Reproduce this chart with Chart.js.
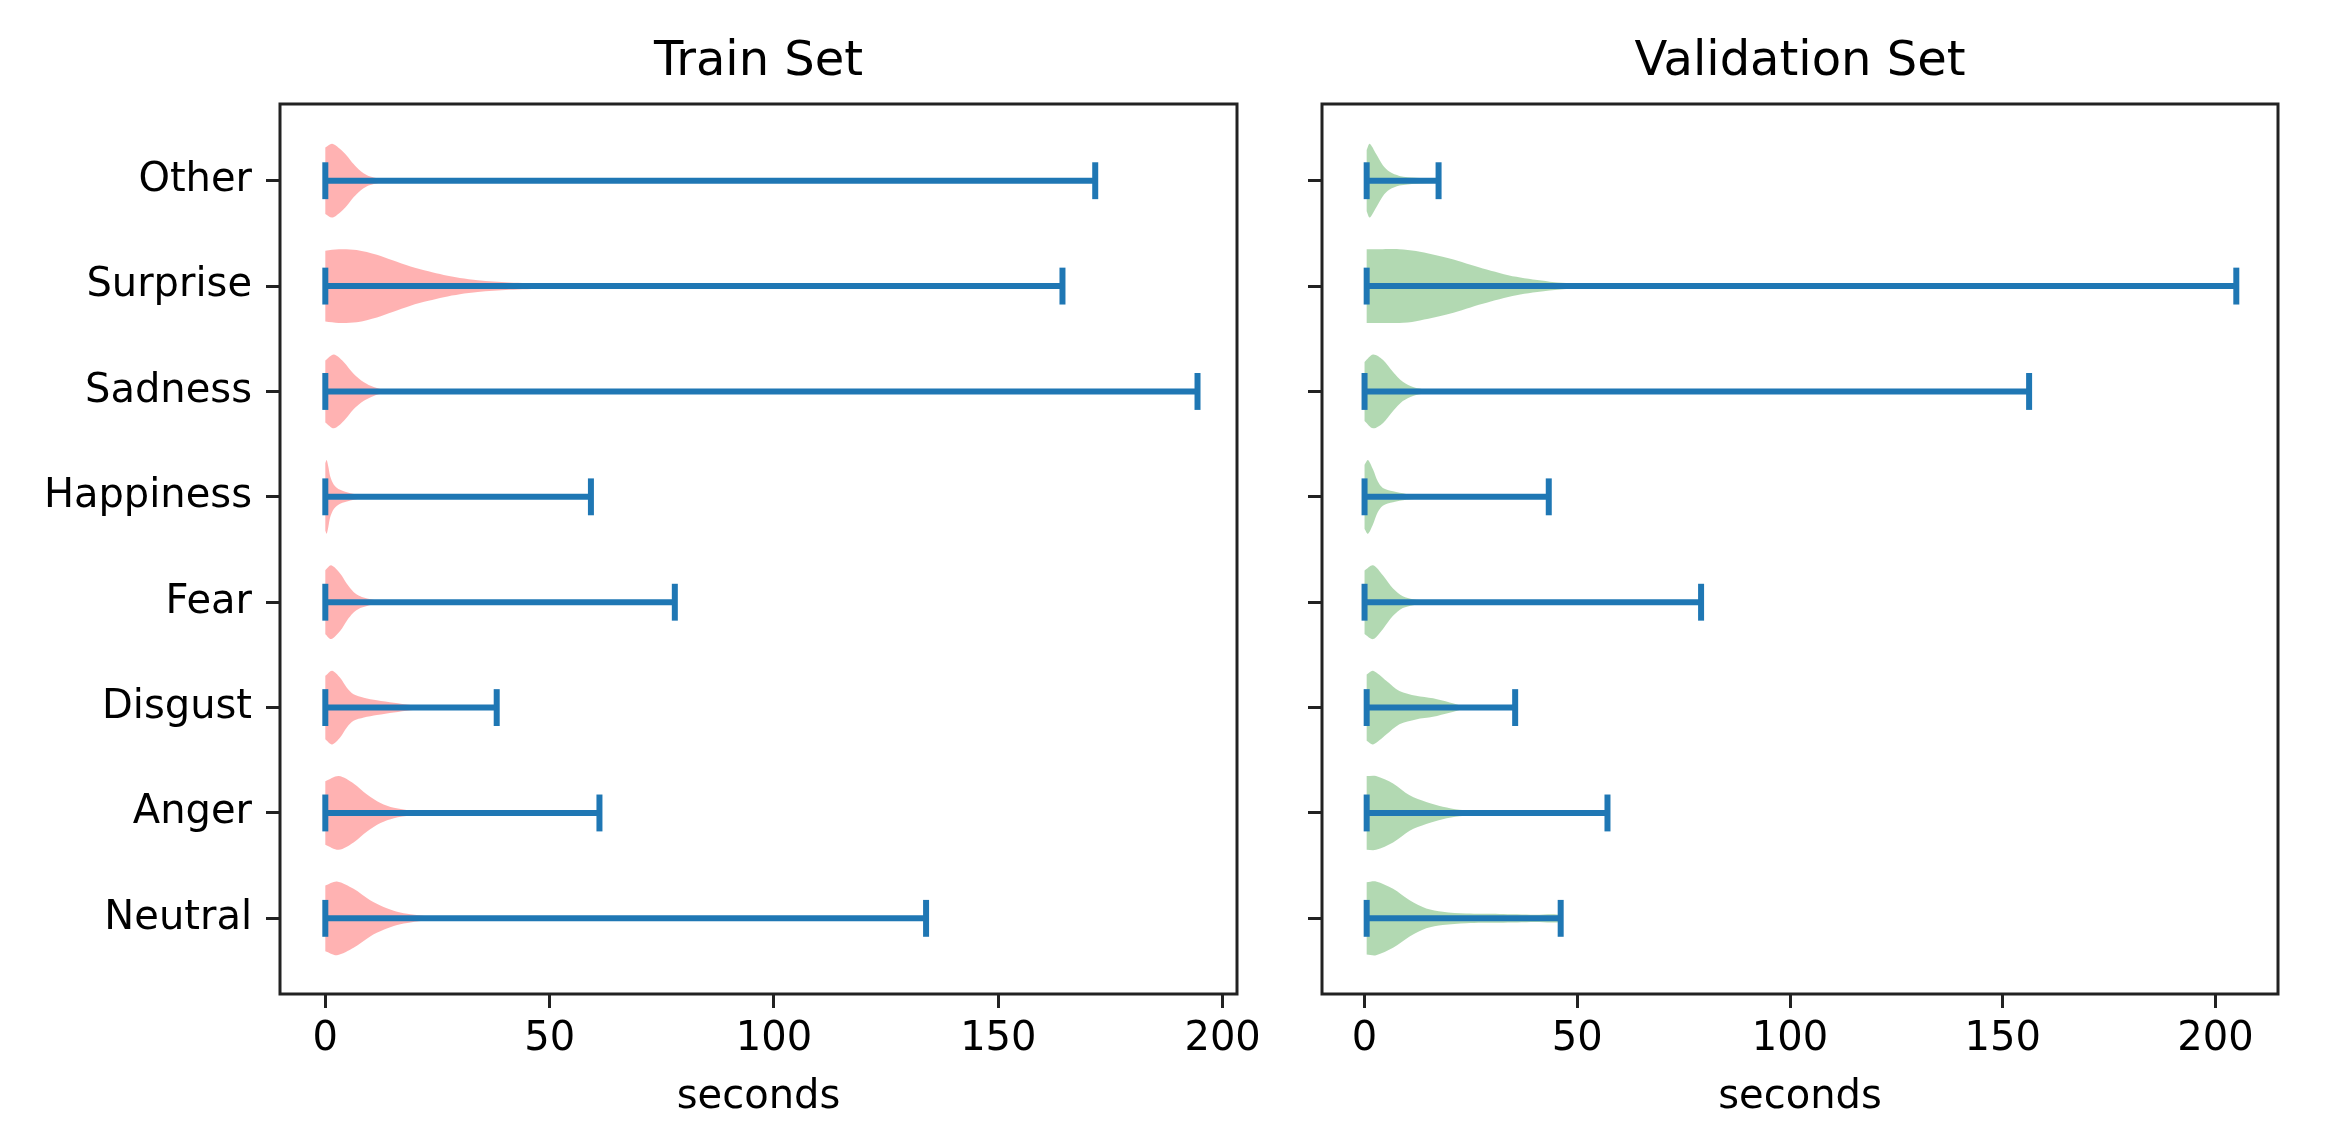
<!DOCTYPE html>
<html>
<head>
<meta charset="utf-8">
<script src="https://cdn.jsdelivr.net/npm/chart.js@4.4.1/dist/chart.umd.min.js"></script>
<style>
  html, body { margin: 0; padding: 0; background: #fff; overflow: hidden; }
  #wrap { position: relative; width: 2330px; height: 1146px; }
  canvas { position: absolute; top: 0; }
  #grafico-train { left: 0; }
  #grafico-val { left: 1280px; }
</style>
</head>
<body>
<div id="wrap">
  <canvas id="grafico-train" width="1280" height="1146"></canvas>
  <canvas id="grafico-val" width="1050" height="1146"></canvas>
</div>
<script>
// Categories, bottom to top (position 1..8)
const categories = ["Neutral", "Anger", "Disgust", "Fear", "Happiness", "Sadness", "Surprise", "Other"];
const xTicks = [0, 50, 100, 150, 200];

// Whisker extremes (seconds)
const trainMin = [0, 0, 0, 0, 0, 0, 0, 0];
const trainMax = [133.9, 61.1, 38.2, 77.9, 59.2, 194.4, 164.3, 171.6];
const valMin = [0.5, 0.5, 0.5, 0, 0, 0, 0.5, 0.5];
const valMax = [46.1, 57.1, 35.4, 79.1, 43.3, 156.2, 204.9, 17.4];

// Violin outlines: x (seconds) and relative half width (1 = widest)
const trainShapeX = [
  [0, 2.6, 6.3, 10, 13, 16, 19, 22.7, 30, 45, 70, 133.9],
  [0, 3, 6.3, 9.3, 12.3, 15.3, 19, 25, 35, 61.1],
  [0, 1.5, 3.3, 4.8, 6.3, 8.6, 11.5, 15.3, 19, 24, 30, 38.2],
  [0, 1.3, 3.3, 4.8, 6.3, 7.8, 9.3, 11.5, 15, 25, 77.9],
  [0, 0.3, 0.7, 1.1, 1.9, 3.3, 5.6, 7.8, 12, 20, 59.2],
  [0, 1.9, 4.1, 6.3, 8.6, 10.8, 13, 16, 22, 35, 194.4],
  [0, 3, 7, 11.5, 15, 19, 23, 26.4, 30, 34, 41, 49, 64, 86, 110, 164.3],
  [0, 1.5, 3.3, 4.8, 6.3, 7.8, 9.3, 10.8, 13, 20, 40, 171.6]
];
const trainShapeW = [
  [0.89, 1, 0.8, 0.49, 0.31, 0.18, 0.11, 0.06, 0.03, 0.015, 0.005, 0],
  [0.86, 1, 0.8, 0.5, 0.27, 0.14, 0.07, 0.03, 0.01, 0],
  [0.86, 1, 0.81, 0.54, 0.36, 0.27, 0.2, 0.13, 0.07, 0.03, 0.01, 0],
  [0.87, 1, 0.78, 0.5, 0.28, 0.16, 0.1, 0.05, 0.02, 0.005, 0],
  [0.92, 1, 0.8, 0.55, 0.33, 0.19, 0.1, 0.05, 0.02, 0.005, 0],
  [0.84, 1, 0.8, 0.48, 0.25, 0.12, 0.05, 0.03, 0.01, 0.004, 0],
  [0.96, 1, 0.98, 0.85, 0.7, 0.53, 0.4, 0.3, 0.22, 0.16, 0.1, 0.07, 0.05, 0.03, 0.015, 0],
  [0.9, 1, 0.86, 0.68, 0.45, 0.27, 0.15, 0.09, 0.04, 0.01, 0.003, 0]
];
const valShapeX = [
  [0.5, 2.7, 6.7, 10.6, 14.5, 18.4, 23.9, 31.7, 40, 46.1],
  [0.5, 2.7, 6.7, 10.6, 14.5, 18.4, 22.3, 27.8, 35, 45, 57.1],
  [0.5, 2, 5.1, 8.2, 12.1, 16.1, 20, 23.1, 28, 35.4],
  [0, 2, 4.3, 6.7, 9, 11.4, 14.5, 20, 30, 79.1],
  [0, 0.8, 2, 3.1, 4.3, 6.7, 9.8, 15, 25, 43.3],
  [0, 2, 4.3, 6.7, 9, 11.4, 14.5, 20, 35, 156.2],
  [0.5, 4.3, 8.2, 12.1, 20, 27.8, 35.7, 43.5, 51.3, 59.2, 75, 100, 204.9],
  [0.5, 1.2, 2.7, 4.3, 5.9, 8.2, 12.1, 16.8, 17.4]
];
const valShapeW = [
  [0.98, 1, 0.8, 0.49, 0.27, 0.18, 0.13, 0.12, 0.1, 0.09],
  [1, 1, 0.8, 0.48, 0.3, 0.17, 0.09, 0.04, 0.02, 0.01, 0.005],
  [0.9, 1, 0.73, 0.45, 0.32, 0.25, 0.14, 0.05, 0.02, 0.01],
  [0.86, 1, 0.73, 0.37, 0.16, 0.08, 0.045, 0.02, 0.005, 0],
  [0.87, 1, 0.74, 0.42, 0.24, 0.15, 0.08, 0.03, 0.01, 0],
  [0.8, 1, 0.86, 0.53, 0.26, 0.12, 0.05, 0.02, 0.005, 0],
  [1, 1, 1, 0.95, 0.75, 0.48, 0.25, 0.12, 0.06, 0.045, 0.03, 0.015, 0],
  [0.83, 1, 0.73, 0.42, 0.24, 0.13, 0.08, 0.06, 0.06]
];

const AZUL = "#1f77b4";
const FUENTE = "DejaVu Sans";
const MEDIO_ANCHO = 0.35;   // widest half width of a violin (y units)
const MEDIO_CAP = 0.175;    // half length of the end caps

// Frame round the plot area (top and right spines too)
const marco = {
  id: "marco",
  afterDraw(chart) {
    const { ctx, chartArea: a } = chart;
    ctx.save();
    ctx.strokeStyle = "#222";
    ctx.lineWidth = 3;
    ctx.strokeRect(a.left, a.top, a.right - a.left, a.bottom - a.top);
    ctx.restore();
  }
};

function contornoViolin(pos, xs, ws) {
  const arriba = xs.map((x, i) => ({ x: x, y: pos + ws[i] * MEDIO_ANCHO }));
  const abajo = xs.map((x, i) => ({ x: x, y: pos - ws[i] * MEDIO_ANCHO })).reverse();
  return arriba.concat(abajo);
}

function lineaAzul(data) {
  return {
    data: data,
    borderColor: AZUL,
    borderWidth: 6,
    borderCapStyle: "butt",
    pointRadius: 0,
    fill: false,
    tension: 0,
    order: 1
  };
}

function armarDatasets(shapeX, shapeW, mins, maxs, relleno) {
  const ds = [];
  categories.forEach((cat, i) => {
    const pos = i + 1;
    ds.push({
      label: cat,
      data: contornoViolin(pos, shapeX[i], shapeW[i]),
      backgroundColor: relleno,
      borderColor: "rgba(0,0,0,0)",
      borderWidth: 1,
      pointRadius: 0,
      fill: "shape",
      tension: 0.3,
      order: 2
    });
    ds.push(lineaAzul([{ x: mins[i], y: pos }, { x: maxs[i], y: pos }]));
    ds.push(lineaAzul([{ x: mins[i], y: pos - MEDIO_CAP }, { x: mins[i], y: pos + MEDIO_CAP }]));
    ds.push(lineaAzul([{ x: maxs[i], y: pos - MEDIO_CAP }, { x: maxs[i], y: pos + MEDIO_CAP }]));
  });
  return ds;
}

function generarGrafico(id, titulo, datasets, xMin, xMax, anchoY, padDerecha, conEtiquetas) {
  const ctx = document.getElementById(id).getContext("2d");
  return new Chart(ctx, {
    type: "line",
    data: { datasets: datasets },
    plugins: [marco],
    options: {
      responsive: false,
      animation: false,
      devicePixelRatio: 1,
      layout: { padding: { left: 0, right: padDerecha, top: 0, bottom: 0 } },
      plugins: {
        legend: { display: false },
        tooltip: { enabled: false },
        title: {
          display: true,
          text: titulo,
          fullSize: false,
          color: "#000",
          font: { family: FUENTE, size: 48, weight: "normal" },
          padding: { top: 34, bottom: 12.4 }
        }
      },
      scales: {
        x: {
          type: "linear",
          min: xMin,
          max: xMax,
          afterBuildTicks: s => { s.ticks = xTicks.map(v => ({ value: v })); },
          afterFit: s => { s.height = 152; },
          grid: { drawOnChartArea: false, drawTicks: true, tickLength: 14, tickWidth: 3, tickColor: "#222" },
          border: { display: false },
          ticks: { color: "#000", font: { family: FUENTE, size: 40 }, padding: 8, maxRotation: 0, autoSkip: false },
          title: {
            display: true,
            text: "seconds",
            color: "#000",
            font: { family: FUENTE, size: 40 },
            padding: { top: 0, bottom: 24 }
          }
        },
        y: {
          type: "linear",
          min: 0.282,
          max: 8.728,
          afterBuildTicks: s => { s.ticks = categories.map((c, i) => ({ value: i + 1 })); },
          afterFit: s => { s.width = anchoY; },
          grid: { drawOnChartArea: false, drawTicks: true, tickLength: 14, tickWidth: 3, tickColor: "#222" },
          border: { display: false },
          ticks: {
            color: "#000",
            font: { family: FUENTE, size: 40 },
            padding: 14,
            autoSkip: false,
            callback: v => conEtiquetas ? categories[v - 1] : ""
          }
        }
      }
    }
  });
}

generarGrafico("grafico-train", "Train Set",
  armarDatasets(trainShapeX, trainShapeW, trainMin, trainMax, "rgba(255,0,0,0.3)"),
  -10.1, 203.2, 280, 43, true);

generarGrafico("grafico-val", "Validation Set",
  armarDatasets(valShapeX, valShapeW, valMin, valMax, "rgba(0,128,0,0.3)"),
  -10.0, 214.7, 42, 52, false);
</script>
</body>
</html>
